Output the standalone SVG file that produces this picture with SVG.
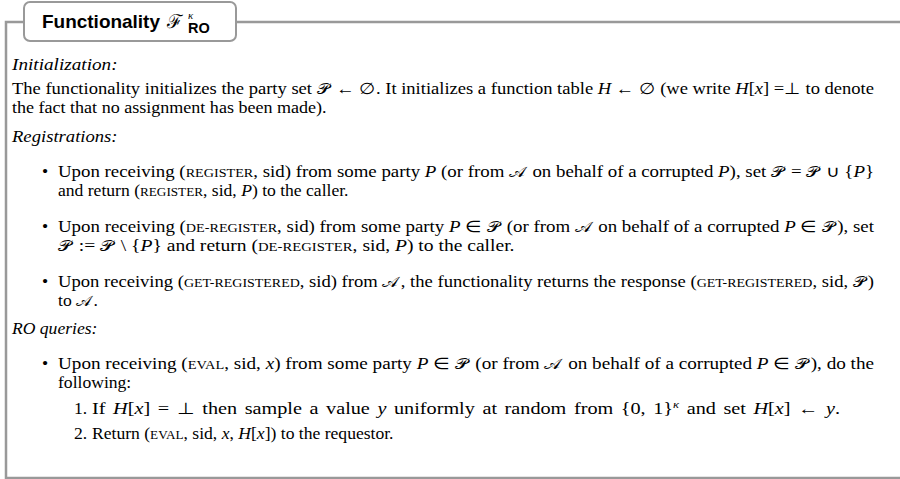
<svg xmlns="http://www.w3.org/2000/svg" width="900" height="479" viewBox="0 0 900 479">
<style>
.frame{fill:none;stroke:#999;stroke-width:2.5}
.tbox{fill:#fff;stroke:#999;stroke-width:2}
.t{font-family:"Liberation Serif",serif;font-size:16px;fill:#000}
.i{font-style:italic}
.sc{font-size:12px}
.s{font-family:"DejaVu Serif","DejaVu Sans","Noto Sans",serif;font-size:15px;letter-spacing:1.5px}
.ttl{font-family:"Liberation Sans",sans-serif;font-weight:bold;fill:#000}
</style>
<rect width="900" height="479" fill="#fff"/>
<g id="frame">
<path class="frame" d="M900,22 H236 M24,22 H6 V478 H900"/>
</g>
<g id="title">
<rect class="tbox" x="24" y="2" width="212" height="39" rx="6"/>
<text class="ttl" x="42" y="28" font-size="18.5" textLength="118" lengthAdjust="spacingAndGlyphs">Functionality</text>
<text x="167" y="28" font-family="DejaVu Serif,serif" font-size="19" fill="#000">ℱ</text>
<text x="188" y="19" font-family="Liberation Serif,serif" font-style="italic" font-size="11" fill="#000">κ</text>
<text class="ttl" x="188" y="33" font-size="14.5">RO</text>
</g>
<g transform="scale(1.1 1)">
<g id="initialization" class="t">
<text x="10.91" y="70" class="i" textLength="96" lengthAdjust="spacingAndGlyphs">Initialization:</text>
<text x="10.91" y="94" textLength="783.6" lengthAdjust="spacingAndGlyphs">The functionality initializes the party set <tspan class="s">𝒫</tspan> ← ∅. It initializes a function table <tspan class="i">H</tspan> ← ∅ (we write <tspan class="i">H</tspan>[<tspan class="i">x</tspan>] =⊥ to denote</text>
<text x="10.91" y="113" textLength="286" lengthAdjust="spacingAndGlyphs">the fact that no assignment has been made).</text>
</g>
<g id="registrations" class="t">
<text x="10.91" y="142" class="i" textLength="96" lengthAdjust="spacingAndGlyphs">Registrations:</text>
<text x="38.2" y="177">•</text>
<text x="52.73" y="177" textLength="741.8" lengthAdjust="spacingAndGlyphs">Upon receiving (<tspan class="sc">REGISTER</tspan>, sid) from some party <tspan class="i">P</tspan> (or from <tspan class="s">𝒜</tspan> on behalf of a corrupted <tspan class="i">P</tspan>), set <tspan class="s">𝒫</tspan> = <tspan class="s">𝒫</tspan> ∪ {<tspan class="i">P</tspan>}</text>
<text x="52.73" y="196">and return (<tspan class="sc">REGISTER</tspan>, sid, <tspan class="i">P</tspan>) to the caller.</text>
<text x="38.2" y="232">•</text>
<text x="52.73" y="232" textLength="741.8" lengthAdjust="spacingAndGlyphs">Upon receiving (<tspan class="sc">DE-REGISTER</tspan>, sid) from some party <tspan class="i">P</tspan> ∈ <tspan class="s">𝒫</tspan> (or from <tspan class="s">𝒜</tspan> on behalf of a corrupted <tspan class="i">P</tspan> ∈ <tspan class="s">𝒫</tspan>), set</text>
<text x="52.73" y="251" textLength="415" lengthAdjust="spacingAndGlyphs"><tspan class="s">𝒫</tspan> := <tspan class="s">𝒫</tspan> \ {<tspan class="i">P</tspan>} and return (<tspan class="sc">DE-REGISTER</tspan>, sid, <tspan class="i">P</tspan>) to the caller.</text>
<text x="38.2" y="287">•</text>
<text x="52.73" y="287" textLength="741.8" lengthAdjust="spacingAndGlyphs">Upon receiving (<tspan class="sc">GET-REGISTERED</tspan>, sid) from <tspan class="s">𝒜</tspan>, the functionality returns the response (<tspan class="sc">GET-REGISTERED</tspan>, sid, <tspan class="s">𝒫</tspan>)</text>
<text x="52.73" y="306">to <tspan class="s">𝒜</tspan>.</text>
</g>
<g id="ro-queries" class="t">
<text x="10.91" y="334" class="i">RO queries:</text>
<text x="38.2" y="369">•</text>
<text x="52.73" y="369" textLength="741.8" lengthAdjust="spacingAndGlyphs">Upon receiving (<tspan class="sc">EVAL</tspan>, sid, <tspan class="i">x</tspan>) from some party <tspan class="i">P</tspan> ∈ <tspan class="s">𝒫</tspan> (or from <tspan class="s">𝒜</tspan> on behalf of a corrupted <tspan class="i">P</tspan> ∈ <tspan class="s">𝒫</tspan>), do the</text>
<text x="52.73" y="388">following:</text>
<text x="67.27" y="414">1.</text>
<text x="83.64" y="414" textLength="680" lengthAdjust="spacingAndGlyphs" word-spacing="2">If <tspan class="i">H</tspan>[<tspan class="i">x</tspan>] = ⊥ then sample a value <tspan class="i">y</tspan> uniformly at random from {0, 1}<tspan class="i" font-size="10" dy="-6">κ</tspan><tspan dy="6"> and set </tspan><tspan class="i">H</tspan>[<tspan class="i">x</tspan>] ← <tspan class="i">y</tspan>.</text>
<text x="67.27" y="439">2.</text>
<text x="83.64" y="439">Return (<tspan class="sc">EVAL</tspan>, sid, <tspan class="i">x</tspan>, <tspan class="i">H</tspan>[<tspan class="i">x</tspan>]) to the requestor.</text>
</g>
</g>
</svg>
